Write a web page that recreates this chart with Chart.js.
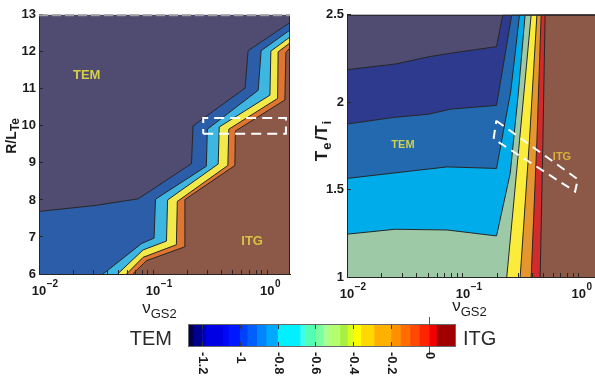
<!DOCTYPE html>
<html>
<head>
<meta charset="utf-8">
<title>TEM / ITG maps</title>
<script src="https://cdn.jsdelivr.net/npm/chart.js@4.4.1/dist/chart.umd.min.js"></script>
<style>
  html, body { margin: 0; padding: 0; background: #fff; overflow: hidden; }
  #figure { position: relative; width: 595px; height: 385px; overflow: hidden; }
  #figure canvas { position: absolute; }
</style>
</head>
<body>
<div id="figure">
  <canvas id="leftChart" width="300" height="325" style="left:0;top:0"></canvas>
  <canvas id="rightChart" width="310" height="325" style="left:300px;top:0"></canvas>
  <canvas id="barChart" width="430" height="75" style="left:100px;top:310px"></canvas>
</div>
<script>
// nu_GS2 range of both panels
const nuMin = 0.01;
const nuMax = 1.585;

// left panel: contour edges in (nu, R/L_Te), from the TEM side to the ITG side
const leftEdge1 = [[0.01, 7.69], [0.031, 7.85], [0.074, 8.03], [0.217, 8.98], [0.224, 10.0], [0.64, 11.02], [0.68, 12.03], [1.585, 12.79]];
const leftEdge2 = [[0.0364, 6], [0.079, 6.82], [0.102, 6.97], [0.105, 8.02], [0.293, 8.91], [0.299, 9.91], [0.834, 10.96], [0.885, 12.03], [1.585, 12.59]];
const leftEdge3 = [[0.0488, 6], [0.0817, 6.65], [0.131, 6.89], [0.134, 8.0], [0.372, 8.97], [0.38, 9.97], [1.057, 10.83], [1.077, 12.02], [1.585, 12.4]];
const leftEdge4 = [[0.0585, 6], [0.0817, 6.45], [0.16, 6.79], [0.163, 7.96], [0.452, 8.93], [0.461, 9.91], [1.234, 10.74], [1.248, 12.0], [1.585, 12.24]];
const leftEdge5 = [[0.0664, 6], [0.0875, 6.36], [0.188, 6.73], [0.19, 8.01], [0.521, 8.93], [0.526, 9.86], [1.43, 10.7], [1.459, 11.98], [1.585, 12.11]];
const leftBox = [[0.275, 9.79], [1.46, 9.79], [1.46, 10.21], [0.275, 10.21], [0.275, 9.79]];
const leftTicks = [6, 7, 8, 9, 10, 11, 12, 13];

// right panel: contour edges in (nu, Te/Ti)
const rightEdge1 = [[0.01, 2.186], [0.026, 2.218], [0.052, 2.261], [0.078, 2.28], [0.195, 2.318], [0.221, 2.5], [1.585, 2.5]];
const rightEdge2 = [[0.01, 1.875], [0.0253, 1.913], [0.0505, 1.931], [0.078, 1.96], [0.195, 1.982], [0.264, 2.5], [1.585, 2.5]];
const rightEdge3 = [[0.01, 1.564], [0.073, 1.63], [0.195, 1.621], [0.259, 2.064], [0.308, 2.5], [1.585, 2.5]];
const rightEdge4 = [[0.01, 1.245], [0.026, 1.273], [0.073, 1.269], [0.195, 1.235], [0.256, 1.593], [0.302, 2.064], [0.344, 2.5], [1.585, 2.5]];
const rightEdge5 = [[0.239, 1], [0.308, 1.781], [0.388, 2.5], [1.585, 2.5]];
const rightEdge6 = [[0.312, 1], [0.375, 1.781], [0.435, 2.5], [1.585, 2.5]];
const rightEdge7 = [[0.388, 1], [0.435, 1.781], [0.473, 2.5], [1.585, 2.5]];
const rightEdge8 = [[0.464, 1], [0.49, 1.781], [0.512, 2.5], [1.585, 2.5]];
const rightBox = [[0.194, 1.894], [0.98, 1.559], [0.929, 1.489], [0.184, 1.79], [0.194, 1.894]];
const rightTicks = [1, 1.5, 2, 2.5];

// colour bar
const barEdges = [-1.271, -1.246, -1.2, -1.18, -1.09, -1.06, -1.0, -0.96, -0.91, -0.86, -0.8, -0.68, -0.655, -0.6,
  -0.56, -0.53, -0.47, -0.43, -0.4, -0.36, -0.29, -0.2, -0.15, -0.1, -0.05, 0, 0.04, 0.135];
const barColors = ['#00004c', '#00008e', '#0000b4', '#0000e4', '#0008f4', '#0018ff', '#0040ff', '#0060ff', '#0084ff',
  '#00a8ff', '#00f0ff', '#40ffe8', '#50ffb4', '#78ffa0', '#a8ff98', '#b4ff70', '#a8f040', '#d8ff20', '#ffff00',
  '#ffd800', '#ffb000', '#ff9000', '#ff6c00', '#ff4800', '#ff2400', '#f40000', '#a00000'];
const barTicks = [-1.2, -1, -0.8, -0.6, -0.4, -0.2, 0];

const FONT = '"Liberation Sans", Arial, Helvetica, sans-serif';
Chart.defaults.font.family = FONT;
Chart.defaults.color = '#1a1a1a';

function isDecadeStep(v) {
  const m = v / Math.pow(10, Math.floor(Math.log10(v) + 1e-9));
  return Math.abs(m - Math.round(m)) < 1e-6;
}

// text made of pieces (for sub/superscripts), centred on (x, y)
function drawPieces(ctx, pieces, x, y, angle) {
  let total = 0;
  pieces.forEach(p => {
    ctx.font = `${p.weight || 'normal'} ${p.size}px ${FONT}`;
    p.w = ctx.measureText(p.t).width;
    total += p.w + (p.gap || 0);
  });
  ctx.save();
  ctx.translate(x, y);
  ctx.rotate(angle || 0);
  ctx.textAlign = 'left';
  ctx.textBaseline = 'alphabetic';
  let cx = -total / 2;
  pieces.forEach(p => {
    ctx.font = `${p.weight || 'normal'} ${p.size}px ${FONT}`;
    ctx.fillText(p.t, cx, p.dy || 0);
    cx += p.w + (p.gap || 0);
  });
  ctx.restore();
}

const decor = {
  id: 'decor',
  beforeDatasetsDraw(chart, args, o) {
    const { ctx, chartArea: a } = chart;
    ctx.save();
    ctx.fillStyle = o.background;
    ctx.fillRect(a.left, a.top, a.width, a.height);
    ctx.restore();
  },
  afterDraw(chart, args, o) {
    const { ctx, chartArea: a, scales } = chart;
    ctx.save();
    // frame
    ctx.strokeStyle = '#262626';
    ctx.lineWidth = 1;
    ctx.beginPath();
    ctx.moveTo(a.right - 0.5, a.top);
    ctx.lineTo(a.right - 0.5, a.bottom);
    ctx.stroke();
    if (o.dashedTop) {
      ctx.strokeStyle = '#a0a0a0';
      ctx.lineWidth = 2;
      ctx.setLineDash([9, 4]);
    }
    ctx.beginPath();
    ctx.moveTo(a.left, a.top + 0.5);
    ctx.lineTo(a.right, a.top + 0.5);
    ctx.stroke();
    ctx.setLineDash([]);

    // TEM / ITG labels inside the map
    o.labels.forEach(l => {
      ctx.font = `bold ${l.size}px ${FONT}`;
      ctx.fillStyle = l.color;
      ctx.textAlign = 'center';
      ctx.textBaseline = 'middle';
      ctx.fillText(l.text, scales.x.getPixelForValue(l.x), scales.y.getPixelForValue(l.y));
    });

    // 10^n tick labels
    ctx.fillStyle = '#1a1a1a';
    scales.x.ticks.forEach(t => {
      const e = Math.round(Math.log10(t.value));
      if (Math.abs(Math.log10(t.value) - e) > 1e-6) return;
      const px = scales.x.getPixelForValue(t.value);
      const base = a.bottom + 21;
      ctx.font = `bold 13px ${FONT}`;
      ctx.textAlign = 'center';
      ctx.textBaseline = 'alphabetic';
      ctx.fillText('10', px, base);
      const w = ctx.measureText('10').width;
      ctx.font = `bold 10px ${FONT}`;
      ctx.textAlign = 'left';
      ctx.fillText(e < 0 ? '\u2212' + (-e) : String(e), px + w / 2 + 0.5, base - 8);
    });

    // axis titles
    ctx.fillStyle = '#1a1a1a';
    drawPieces(ctx, o.xTitle, (a.left + a.right) / 2 - 5, o.xTitleY);
    drawPieces(ctx, o.yTitle, o.yTitleX, o.yTitleY, -Math.PI / 2);
    ctx.restore();
  }
};

function makeMap(id, cfg) {
  const n = cfg.edges.length;
  const datasets = cfg.edges.map((pts, i) => ({
    data: pts.map(p => ({ x: p[0], y: p[1] })),
    fill: 'start',
    backgroundColor: cfg.colors[i],
    borderColor: '#272727',
    borderWidth: 1,
    pointRadius: 0,
    order: n - i
  }));
  datasets.push({
    data: cfg.box.map(p => ({ x: p[0], y: p[1] })),
    fill: false,
    borderColor: '#ffffff',
    borderWidth: 2,
    borderDash: cfg.boxDash,
    pointRadius: 0,
    order: 0
  });
  return new Chart(document.getElementById(id), {
    type: 'line',
    data: { datasets },
    options: {
      responsive: false,
      animation: false,
      events: [],
      layout: { padding: cfg.padding },
      scales: {
        x: {
          type: 'logarithmic',
          min: nuMin,
          max: nuMax,
          afterBuildTicks: s => { s.ticks = s.ticks.filter(t => isDecadeStep(t.value)); },
          afterFit: s => { s.height = cfg.xHeight; },
          ticks: { display: false },
          grid: { drawOnChartArea: false, tickLength: -4, color: '#262626', z: 1 },
          border: { color: '#262626', z: 1 }
        },
        y: {
          type: 'linear',
          min: cfg.yTicks[0],
          max: cfg.yTicks[cfg.yTicks.length - 1],
          afterBuildTicks: s => { s.ticks = cfg.yTicks.map(v => ({ value: v })); },
          afterFit: s => { s.width = cfg.yWidth; },
          ticks: { padding: 7, font: { size: 13, weight: 'bold' }, color: '#1a1a1a', callback: v => String(v) },
          grid: { drawOnChartArea: false, tickLength: -4, color: '#262626', z: 1 },
          border: { color: '#262626', z: 1 }
        }
      },
      plugins: { legend: { display: false }, tooltip: { enabled: false }, decor: cfg.decor }
    },
    plugins: [decor]
  });
}

makeMap('leftChart', {
  edges: [leftEdge1, leftEdge2, leftEdge3, leftEdge4, leftEdge5],
  colors: ['#2b5da9', '#3db6e2', '#f2e94b', '#df7530', '#8c5848'],
  box: leftBox,
  boxDash: [10, 6],
  yTicks: leftTicks,
  padding: { top: 10, right: 10 },
  xHeight: 51,
  yWidth: 39,
  decor: {
    background: '#4f4b71',
    dashedTop: true,
    labels: [
      { text: 'TEM', x: 0.0262, y: 11.36, size: 13, color: '#d6d046' },
      { text: 'ITG', x: 0.738, y: 6.87, size: 13, color: '#d8c444' }
    ],
    xTitle: [{ t: '\u03bd', size: 17 }, { t: 'GS2', size: 13, dy: 5 }],
    xTitleY: 313,
    yTitle: [{ t: 'R/L', size: 14, weight: 'bold' }, { t: 'Te', size: 12, weight: 'bold', dy: 3 }],
    yTitleX: 16,
    yTitleY: 136
  }
});

makeMap('rightChart', {
  edges: [rightEdge1, rightEdge2, rightEdge3, rightEdge4, rightEdge5, rightEdge6, rightEdge7, rightEdge8],
  colors: ['#2e3a8d', '#2369b0', '#00adea', '#9dc9a7', '#fbec3b', '#e6962f', '#d12b2b', '#8c5848'],
  box: rightBox,
  boxDash: [9, 6],
  yTicks: rightTicks,
  padding: { top: 11, right: 8 },
  xHeight: 48,
  yWidth: 47,
  decor: {
    background: '#4f4b71',
    dashedTop: false,
    labels: [
      { text: 'TEM', x: 0.0304, y: 1.755, size: 11, color: '#cfcf50' },
      { text: 'ITG', x: 0.716, y: 1.688, size: 11, color: '#d9b23a' }
    ],
    xTitle: [{ t: '\u03bd', size: 17 }, { t: 'GS2', size: 13, dy: 5 }],
    xTitleY: 311,
    yTitle: [{ t: 'T', size: 17, weight: 'bold', gap: 1 }, { t: 'e', size: 13, weight: 'bold', dy: 4, gap: 2 },
             { t: '/T', size: 17, weight: 'bold', gap: 1 }, { t: 'i', size: 13, weight: 'bold', dy: 4 }],
    yTitleX: 27,
    yTitleY: 141
  }
});

const barLabel = 'growth';
const barDecor = {
  id: 'barDecor',
  afterDraw(chart) {
    const { ctx, chartArea: a, scales } = chart;
    ctx.save();
    ctx.strokeStyle = '#6a6a6a';
    ctx.lineWidth = 1;
    ctx.strokeRect(a.left - 0.5, a.top - 0.5, a.width + 1, a.height + 1);
    const z = Math.round(scales.x.getPixelForValue(0)) + 0.5;
    ctx.strokeStyle = '#555';
    ctx.beginPath();
    ctx.moveTo(z, a.top - 8);
    ctx.lineTo(z, a.bottom + 9);
    ctx.stroke();
    ctx.fillStyle = '#1a1a1a';
    ctx.font = `bold 13px ${FONT}`;
    barTicks.forEach(v => {
      ctx.save();
      ctx.translate(scales.x.getPixelForValue(v), a.bottom + 6);
      ctx.rotate(Math.PI / 2);
      ctx.textAlign = 'left';
      ctx.textBaseline = 'middle';
      ctx.fillText(String(v), 0, 0);
      ctx.restore();
    });
    ctx.fillStyle = '#2a2a2a';
    ctx.font = `20px ${FONT}`;
    ctx.textBaseline = 'alphabetic';
    ctx.textAlign = 'right';
    ctx.fillText('TEM', a.left - 17, a.bottom - 1);
    ctx.textAlign = 'left';
    ctx.fillText('ITG', a.right + 8, a.bottom - 1);
    ctx.restore();
  }
};

new Chart(document.getElementById('barChart'), {
  type: 'bar',
  data: {
    labels: [barLabel],
    datasets: [{
      data: barColors.map((c, i) => ({ x: [barEdges[i], barEdges[i + 1]], y: barLabel })),
      backgroundColor: barColors,
      borderWidth: 0,
      barPercentage: 1,
      categoryPercentage: 1
    }]
  },
  options: {
    indexAxis: 'y',
    responsive: false,
    animation: false,
    events: [],
    layout: { padding: { top: 15, left: 89, right: 75 } },
    scales: {
      x: {
        type: 'linear',
        min: barEdges[0],
        max: barEdges[barEdges.length - 1],
        afterBuildTicks: s => { s.ticks = barTicks.map(v => ({ value: v })); },
        afterFit: s => { s.height = 39; },
        ticks: { display: false },
        grid: { drawTicks: false, color: '#333', z: 1 },
        border: { display: false, dash: [4, 13] }
      },
      y: { display: false }
    },
    plugins: { legend: { display: false }, tooltip: { enabled: false } }
  },
  plugins: [barDecor]
});
</script>
</body>
</html>
